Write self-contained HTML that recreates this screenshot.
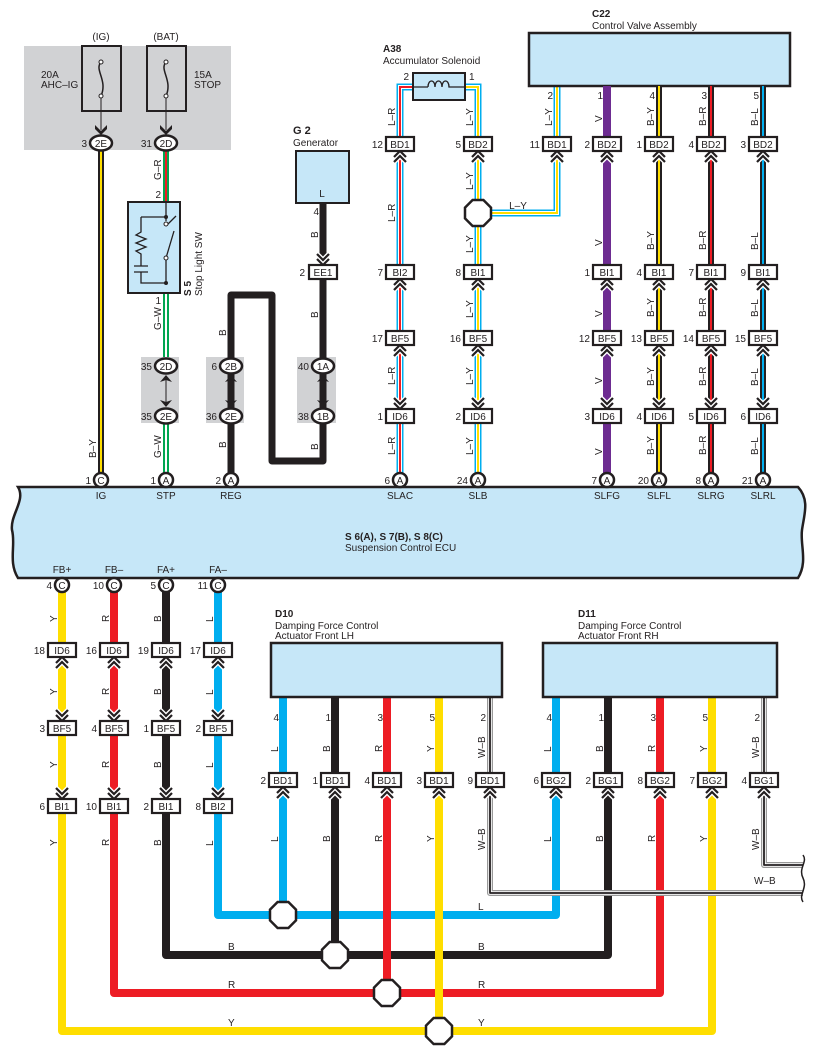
<!DOCTYPE html>
<html><head><meta charset="utf-8"><style>
html,body{margin:0;padding:0;background:#fff}
svg{display:block}
text{font-family:"Liberation Sans",sans-serif;font-size:10px;fill:#231f20}
.b{font-weight:bold}
.m{text-anchor:middle}
.e{text-anchor:end}
</style></head><body>
<svg width="816" height="1057" viewBox="0 0 816 1057" xmlns="http://www.w3.org/2000/svg">
<defs>
<g id="cu"><path d="M-6,5 L0,-1 L6,5 M-6,10 L0,4 L6,10" fill="none" stroke="#fff" stroke-width="5"/><path d="M-6,5 L0,-1 L6,5 M-6,10 L0,4 L6,10" fill="none" stroke="#231f20" stroke-width="2.2"/></g>
<g id="cd"><path d="M-6,-5 L0,1 L6,-5 M-6,-10 L0,-4 L6,-10" fill="none" stroke="#fff" stroke-width="5"/><path d="M-6,-5 L0,1 L6,-5 M-6,-10 L0,-4 L6,-10" fill="none" stroke="#231f20" stroke-width="2.2"/></g>
<polygon id="oct" points="-5.4,-13 5.4,-13 13,-5.4 13,5.4 5.4,13 -5.4,13 -13,5.4 -13,-5.4" fill="#fff" stroke="#231f20" stroke-width="2.5"/>
<rect id="cb" x="-14" y="-7" width="28" height="14" fill="#fff" stroke="#231f20" stroke-width="2.2"/>
</defs>

<!-- fuse area -->
<rect x="24" y="46" width="207" height="104" fill="#d1d2d4"/>
<rect x="82" y="46" width="39" height="65" fill="#d1d2d4" stroke="#231f20" stroke-width="2"/>
<rect x="147" y="46" width="39" height="65" fill="#d1d2d4" stroke="#231f20" stroke-width="2"/>
<path d="M101,62 C94,70 108,80 101,96 M166,62 C159,70 173,80 166,96" fill="none" stroke="#231f20" stroke-width="1.5"/>
<circle cx="101" cy="62" r="2" fill="#fff" stroke="#231f20"/><circle cx="101" cy="96" r="2" fill="#fff" stroke="#231f20"/>
<circle cx="166" cy="62" r="2" fill="#fff" stroke="#231f20"/><circle cx="166" cy="96" r="2" fill="#fff" stroke="#231f20"/>
<line x1="101" y1="98" x2="101" y2="130" stroke="#231f20"/><line x1="166" y1="98" x2="166" y2="130" stroke="#231f20"/>
<path d="M95,125 L101,131 L107,125 L107,129 L101,135 L95,129Z" fill="#231f20"/>
<path d="M160,125 L166,131 L172,125 L172,129 L166,135 L160,129Z" fill="#231f20"/>
<text x="101" y="40" class="m">(IG)</text><text x="166" y="40" class="m">(BAT)</text>
<text x="41" y="78">20A</text><text x="41" y="88">AHC–IG</text>
<text x="194" y="78">15A</text><text x="194" y="88">STOP</text>

<!-- IG wire -->
<line x1="101" y1="150" x2="101" y2="478" stroke="#231f20" stroke-width="6"/>
<line x1="101" y1="150" x2="101" y2="478" stroke="#ffde00" stroke-width="2"/>
<!-- STP wires -->
<line x1="166" y1="150" x2="166" y2="204" stroke="#00a651" stroke-width="6"/>
<line x1="166" y1="150" x2="166" y2="204" stroke="#ed1c24" stroke-width="2"/>
<line x1="166" y1="292" x2="166" y2="478" stroke="#00a651" stroke-width="6"/>
<line x1="166" y1="292" x2="166" y2="478" stroke="#fff" stroke-width="2"/>

<!-- S5 -->
<rect x="128" y="202" width="52" height="91" fill="#c6e7f8" stroke="#231f20" stroke-width="2"/>
<path d="M166,202 V221 M166,258 V283 M141,217 H166 M141,217 V232 L136,235 L146,239 L136,243 L146,247 L136,251 L141,254 V266 M134,266 H148 M134,272 H148 M141,272 V283 H166 M166,226 L176,216 M166,258 L174,231" fill="none" stroke="#231f20" stroke-width="1.3"/>
<circle cx="166" cy="217" r="2" fill="#231f20"/><circle cx="166" cy="283" r="2" fill="#231f20"/>
<circle cx="166" cy="224" r="2" fill="#fff" stroke="#231f20"/><circle cx="166" cy="258" r="2" fill="#fff" stroke="#231f20"/>
<text x="161" y="198" class="e">2</text><text x="161" y="304" class="e">1</text>
<text transform="translate(191,296) rotate(-90)" class="b">S 5</text>
<text transform="translate(202,296) rotate(-90)">Stop Light SW</text>

<!-- gray boxes -->
<rect x="141" y="357" width="38" height="66" fill="#d1d2d4"/>
<rect x="206" y="357" width="38" height="66" fill="#d1d2d4"/>
<rect x="297" y="357" width="39" height="66" fill="#d1d2d4"/>

<!-- REG / G2 black wire -->
<path d="M231,478 V295 H272 V461 H323 V204" fill="none" stroke="#231f20" stroke-width="7" stroke-linejoin="round"/>
<rect x="296" y="151" width="53" height="52" fill="#c6e7f8" stroke="#231f20" stroke-width="2"/>
<text x="322" y="197" class="m">L</text>
<text x="293" y="134" class="b" style="font-size:11px">G 2</text><text x="293" y="146">Generator</text>
<text x="319" y="215" class="e">4</text>

<!-- inline connectors with double arrows in gray boxes -->
<g stroke="#231f20" fill="#231f20">
<line x1="166" y1="376" x2="166" y2="406" stroke-width="1"/><line x1="231" y1="376" x2="231" y2="406" stroke-width="1"/><line x1="323" y1="376" x2="323" y2="406" stroke-width="1"/>
</g>
<path d="M160,382 L166,375 L172,382 L166,380Z M160,400 L166,407 L172,400 L166,402Z" fill="#231f20"/>
<path d="M225,382 L231,375 L237,382 L231,380Z M225,400 L231,407 L237,400 L231,402Z" fill="#231f20"/>
<path d="M317,382 L323,375 L329,382 L323,380Z M317,400 L323,407 L329,400 L323,402Z" fill="#231f20"/>

<!-- L-R & L-Y wires -->
<path d="M414,87 H400 V478" fill="none" stroke="#00aeef" stroke-width="7"/>
<path d="M414,87 H400 V478" fill="none" stroke="#fff" stroke-width="4"/>
<path d="M414,87 H400 V478" fill="none" stroke="#ed1c24" stroke-width="2"/>
<path d="M465,87 H478 V478 M478,213 H557 V86" fill="none" stroke="#00aeef" stroke-width="7"/>
<path d="M465,87 H478 V478 M478,213 H557 V86" fill="none" stroke="#fff" stroke-width="4"/>
<path d="M465,87 H478 V478 M478,213 H557 V86" fill="none" stroke="#ffde00" stroke-width="2"/>
<rect x="413" y="73" width="52" height="27" fill="#c6e7f8" stroke="#231f20" stroke-width="2"/>
<path d="M414,87 H428 M452,87 H465 M428,87 C428,79 435,79 435,87 C435,79 442,79 442,87 C442,79 449,79 449,87 H452" fill="none" stroke="#231f20" stroke-width="1.3"/>
<text x="383" y="52" class="b">A38</text><text x="383" y="64">Accumulator Solenoid</text>
<text x="409" y="80" class="e">2</text><text x="469" y="80">1</text>

<!-- C22 -->
<rect x="529" y="33" width="261" height="53" fill="#c6e7f8" stroke="#231f20" stroke-width="2.5"/>
<text x="592" y="17" class="b">C22</text><text x="592" y="29">Control Valve Assembly</text>
<line x1="607" y1="86" x2="607" y2="478" stroke="#6d2c91" stroke-width="8"/>
<line x1="659" y1="86" x2="659" y2="478" stroke="#231f20" stroke-width="6"/><line x1="659" y1="86" x2="659" y2="478" stroke="#ffde00" stroke-width="2"/>
<line x1="711" y1="86" x2="711" y2="478" stroke="#231f20" stroke-width="6"/><line x1="711" y1="86" x2="711" y2="478" stroke="#ed1c24" stroke-width="2"/>
<line x1="763" y1="86" x2="763" y2="478" stroke="#231f20" stroke-width="6"/><line x1="763" y1="86" x2="763" y2="478" stroke="#00aeef" stroke-width="2"/>
<text x="553" y="99" class="e">2</text><text x="603" y="99" class="e">1</text><text x="655" y="99" class="e">4</text><text x="707" y="99" class="e">3</text><text x="759" y="99" class="e">5</text>
<use href="#oct" x="478" y="213"/>
<text x="518" y="209" class="m">L–Y</text>

<!-- ECU -->
<path d="M18,487 H798 C810,500 804,515 802,530 C800,545 808,562 798,578 H18 C8,562 16,545 12,530 C10,515 26,500 18,487Z" fill="#c6e7f8" stroke="#231f20" stroke-width="2.5"/>
<text x="345" y="540" class="b">S 6(A), S 7(B), S 8(C)</text><text x="345" y="551">Suspension Control ECU</text>
<g class="m">
<text x="101" y="499" class="m">IG</text><text x="166" y="499" class="m">STP</text><text x="231" y="499" class="m">REG</text>
<text x="400" y="499" class="m">SLAC</text><text x="478" y="499" class="m">SLB</text><text x="607" y="499" class="m">SLFG</text>
<text x="659" y="499" class="m">SLFL</text><text x="711" y="499" class="m">SLRG</text><text x="763" y="499" class="m">SLRL</text>
<text x="62" y="573" class="m">FB+</text><text x="114" y="573" class="m">FB–</text><text x="166" y="573" class="m">FA+</text><text x="218" y="573" class="m">FA–</text>
</g>

<!-- bottom wires: horizontals first -->
<g fill="none" stroke-linejoin="round">
<path d="M62,592 V1031 H712 V697" stroke="#ffde00" stroke-width="8"/>
<path d="M114,592 V993 H660 V697" stroke="#ed1c24" stroke-width="8"/>
<path d="M166,592 V955 H608 V697" stroke="#231f20" stroke-width="8"/>
<path d="M218,592 V915 H556 V697" stroke="#00aeef" stroke-width="8"/>
<path d="M490,697 V893 H803 M764,697 V865 H803" stroke="#999" stroke-width="6"/>
<path d="M490,697 V893 H803 M764,697 V865 H803" stroke="#fff" stroke-width="3.5"/>
<path d="M490,697 V893 H803 M764,697 V865 H803" stroke="#231f20" stroke-width="1.8"/>
<line x1="283" y1="697" x2="283" y2="915" stroke="#00aeef" stroke-width="8"/>
<line x1="335" y1="697" x2="335" y2="955" stroke="#231f20" stroke-width="8"/>
<line x1="387" y1="697" x2="387" y2="993" stroke="#ed1c24" stroke-width="8"/>
<line x1="439" y1="697" x2="439" y2="1031" stroke="#ffde00" stroke-width="8"/>
<path d="M803,855 C808,862 798,868 803,878 C808,888 798,895 803,902" stroke="#231f20" stroke-width="1.5"/>
</g>
<use href="#oct" x="283" y="915"/><use href="#oct" x="335" y="955"/><use href="#oct" x="387" y="993"/><use href="#oct" x="439" y="1031"/>
<text x="478" y="910">L</text><text x="478" y="950">B</text><text x="478" y="988">R</text><text x="478" y="1026">Y</text>
<text x="228" y="950">B</text><text x="228" y="988">R</text><text x="228" y="1026">Y</text>
<text x="754" y="884">W–B</text>

<!-- D10 / D11 -->
<rect x="271" y="643" width="231" height="54" fill="#c6e7f8" stroke="#231f20" stroke-width="2.5"/>
<rect x="543" y="643" width="234" height="54" fill="#c6e7f8" stroke="#231f20" stroke-width="2.5"/>
<text x="275" y="617" class="b">D10</text><text x="275" y="629">Damping Force Control</text><text x="275" y="639">Actuator Front LH</text>
<text x="578" y="617" class="b">D11</text><text x="578" y="629">Damping Force Control</text><text x="578" y="639">Actuator Front RH</text>
<g>
<text x="279" y="721" class="e">4</text><text x="331" y="721" class="e">1</text><text x="383" y="721" class="e">3</text><text x="435" y="721" class="e">5</text><text x="486" y="721" class="e">2</text>
<text x="552" y="721" class="e">4</text><text x="604" y="721" class="e">1</text><text x="656" y="721" class="e">3</text><text x="708" y="721" class="e">5</text><text x="760" y="721" class="e">2</text>
</g>

<!-- Round connectors -->
<g fill="#fff" stroke="#231f20" stroke-width="2.5">
<ellipse cx="101" cy="143" rx="11" ry="7.5"/><ellipse cx="166" cy="143" rx="11" ry="7.5"/>
<ellipse cx="166" cy="366" rx="11" ry="7.5"/><ellipse cx="166" cy="416" rx="11" ry="7.5"/>
<ellipse cx="231" cy="366" rx="11" ry="7.5"/><ellipse cx="231" cy="416" rx="11" ry="7.5"/>
<ellipse cx="323" cy="366" rx="11" ry="7.5"/><ellipse cx="323" cy="416" rx="11" ry="7.5"/>
<circle cx="101" cy="480" r="7"/><circle cx="166" cy="480" r="7"/><circle cx="231" cy="480" r="7"/>
<circle cx="400" cy="480" r="7"/><circle cx="478" cy="480" r="7"/><circle cx="607" cy="480" r="7"/>
<circle cx="659" cy="480" r="7"/><circle cx="711" cy="480" r="7"/><circle cx="763" cy="480" r="7"/>
<circle cx="62" cy="585" r="7"/><circle cx="114" cy="585" r="7"/><circle cx="166" cy="585" r="7"/><circle cx="218" cy="585" r="7"/>
</g>
<g>
<text x="101" y="147" class="m">2E</text><text x="166" y="147" class="m">2D</text>
<text x="166" y="370" class="m">2D</text><text x="166" y="420" class="m">2E</text>
<text x="231" y="370" class="m">2B</text><text x="231" y="420" class="m">2E</text>
<text x="323" y="370" class="m">1A</text><text x="323" y="420" class="m">1B</text>
<text x="87" y="147" class="e">3</text><text x="152" y="147" class="e">31</text>
<text x="152" y="370" class="e">35</text><text x="152" y="420" class="e">35</text>
<text x="217" y="370" class="e">6</text><text x="217" y="420" class="e">36</text>
<text x="309" y="370" class="e">40</text><text x="309" y="420" class="e">38</text>
<text x="101" y="484" class="m">C</text><text x="166" y="484" class="m">A</text><text x="231" y="484" class="m">A</text>
<text x="400" y="484" class="m">A</text><text x="478" y="484" class="m">A</text><text x="607" y="484" class="m">A</text>
<text x="659" y="484" class="m">A</text><text x="711" y="484" class="m">A</text><text x="763" y="484" class="m">A</text>
<text x="91" y="484" class="e">1</text><text x="156" y="484" class="e">1</text><text x="221" y="484" class="e">2</text>
<text x="390" y="484" class="e">6</text><text x="468" y="484" class="e">24</text><text x="597" y="484" class="e">7</text>
<text x="649" y="484" class="e">20</text><text x="701" y="484" class="e">8</text><text x="753" y="484" class="e">21</text>
<text x="62" y="589" class="m">C</text><text x="114" y="589" class="m">C</text><text x="166" y="589" class="m">C</text><text x="218" y="589" class="m">C</text>
<text x="52" y="589" class="e">4</text><text x="104" y="589" class="e">10</text><text x="156" y="589" class="e">5</text><text x="208" y="589" class="e">11</text>
</g>

<!-- EE1 -->
<use href="#cd" x="323" y="264"/>
<use href="#cb" x="323" y="272"/><text x="323" y="276" class="m">EE1</text><text x="305" y="276" class="e">2</text>

<!-- upper box connectors -->
<!-- row y144 BD -->
<g>
<use href="#cu" x="400" y="152"/><use href="#cu" x="478" y="152"/><use href="#cu" x="557" y="152"/><use href="#cu" x="607" y="152"/><use href="#cu" x="659" y="152"/><use href="#cu" x="711" y="152"/><use href="#cu" x="763" y="152"/>
<use href="#cb" x="400" y="144"/><use href="#cb" x="478" y="144"/><use href="#cb" x="557" y="144"/><use href="#cb" x="607" y="144"/><use href="#cb" x="659" y="144"/><use href="#cb" x="711" y="144"/><use href="#cb" x="763" y="144"/>
<text x="400" y="148" class="m">BD1</text><text x="478" y="148" class="m">BD2</text><text x="557" y="148" class="m">BD1</text><text x="607" y="148" class="m">BD2</text><text x="659" y="148" class="m">BD2</text><text x="711" y="148" class="m">BD2</text><text x="763" y="148" class="m">BD2</text>
<text x="383" y="148" class="e">12</text><text x="461" y="148" class="e">5</text><text x="540" y="148" class="e">11</text><text x="590" y="148" class="e">2</text><text x="642" y="148" class="e">1</text><text x="694" y="148" class="e">4</text><text x="746" y="148" class="e">3</text>
</g>
<!-- row y272 BI -->
<g>
<use href="#cu" x="400" y="280"/><use href="#cu" x="478" y="280"/><use href="#cu" x="607" y="280"/><use href="#cu" x="659" y="280"/><use href="#cu" x="711" y="280"/><use href="#cu" x="763" y="280"/>
<use href="#cb" x="400" y="272"/><use href="#cb" x="478" y="272"/><use href="#cb" x="607" y="272"/><use href="#cb" x="659" y="272"/><use href="#cb" x="711" y="272"/><use href="#cb" x="763" y="272"/>
<text x="400" y="276" class="m">BI2</text><text x="478" y="276" class="m">BI1</text><text x="607" y="276" class="m">BI1</text><text x="659" y="276" class="m">BI1</text><text x="711" y="276" class="m">BI1</text><text x="763" y="276" class="m">BI1</text>
<text x="383" y="276" class="e">7</text><text x="461" y="276" class="e">8</text><text x="590" y="276" class="e">1</text><text x="642" y="276" class="e">4</text><text x="694" y="276" class="e">7</text><text x="746" y="276" class="e">9</text>
</g>
<!-- row y338 BF5 -->
<g>
<use href="#cu" x="400" y="346"/><use href="#cu" x="478" y="346"/><use href="#cu" x="607" y="346"/><use href="#cu" x="659" y="346"/><use href="#cu" x="711" y="346"/><use href="#cu" x="763" y="346"/>
<use href="#cb" x="400" y="338"/><use href="#cb" x="478" y="338"/><use href="#cb" x="607" y="338"/><use href="#cb" x="659" y="338"/><use href="#cb" x="711" y="338"/><use href="#cb" x="763" y="338"/>
<text x="400" y="342" class="m">BF5</text><text x="478" y="342" class="m">BF5</text><text x="607" y="342" class="m">BF5</text><text x="659" y="342" class="m">BF5</text><text x="711" y="342" class="m">BF5</text><text x="763" y="342" class="m">BF5</text>
<text x="383" y="342" class="e">17</text><text x="461" y="342" class="e">16</text><text x="590" y="342" class="e">12</text><text x="642" y="342" class="e">13</text><text x="694" y="342" class="e">14</text><text x="746" y="342" class="e">15</text>
</g>
<!-- row y416 ID6 -->
<g>
<use href="#cd" x="400" y="408"/><use href="#cd" x="478" y="408"/><use href="#cd" x="607" y="408"/><use href="#cd" x="659" y="408"/><use href="#cd" x="711" y="408"/><use href="#cd" x="763" y="408"/>
<use href="#cb" x="400" y="416"/><use href="#cb" x="478" y="416"/><use href="#cb" x="607" y="416"/><use href="#cb" x="659" y="416"/><use href="#cb" x="711" y="416"/><use href="#cb" x="763" y="416"/>
<text x="400" y="420" class="m">ID6</text><text x="478" y="420" class="m">ID6</text><text x="607" y="420" class="m">ID6</text><text x="659" y="420" class="m">ID6</text><text x="711" y="420" class="m">ID6</text><text x="763" y="420" class="m">ID6</text>
<text x="383" y="420" class="e">1</text><text x="461" y="420" class="e">2</text><text x="590" y="420" class="e">3</text><text x="642" y="420" class="e">4</text><text x="694" y="420" class="e">5</text><text x="746" y="420" class="e">6</text>
</g>

<!-- lower left columns -->
<g>
<use href="#cu" x="62" y="658"/><use href="#cu" x="114" y="658"/><use href="#cu" x="166" y="658"/><use href="#cu" x="218" y="658"/>
<use href="#cb" x="62" y="650"/><use href="#cb" x="114" y="650"/><use href="#cb" x="166" y="650"/><use href="#cb" x="218" y="650"/>
<text x="62" y="654" class="m">ID6</text><text x="114" y="654" class="m">ID6</text><text x="166" y="654" class="m">ID6</text><text x="218" y="654" class="m">ID6</text>
<text x="45" y="654" class="e">18</text><text x="97" y="654" class="e">16</text><text x="149" y="654" class="e">19</text><text x="201" y="654" class="e">17</text>
<use href="#cd" x="62" y="720"/><use href="#cd" x="114" y="720"/><use href="#cd" x="166" y="720"/><use href="#cd" x="218" y="720"/>
<use href="#cb" x="62" y="728"/><use href="#cb" x="114" y="728"/><use href="#cb" x="166" y="728"/><use href="#cb" x="218" y="728"/>
<text x="62" y="732" class="m">BF5</text><text x="114" y="732" class="m">BF5</text><text x="166" y="732" class="m">BF5</text><text x="218" y="732" class="m">BF5</text>
<text x="45" y="732" class="e">3</text><text x="97" y="732" class="e">4</text><text x="149" y="732" class="e">1</text><text x="201" y="732" class="e">2</text>
<use href="#cd" x="62" y="798"/><use href="#cd" x="114" y="798"/><use href="#cd" x="166" y="798"/><use href="#cd" x="218" y="798"/>
<use href="#cb" x="62" y="806"/><use href="#cb" x="114" y="806"/><use href="#cb" x="166" y="806"/><use href="#cb" x="218" y="806"/>
<text x="62" y="810" class="m">BI1</text><text x="114" y="810" class="m">BI1</text><text x="166" y="810" class="m">BI1</text><text x="218" y="810" class="m">BI2</text>
<text x="45" y="810" class="e">6</text><text x="97" y="810" class="e">10</text><text x="149" y="810" class="e">2</text><text x="201" y="810" class="e">8</text>
</g>
<!-- D connectors row y780 -->
<g>
<use href="#cu" x="283" y="788"/><use href="#cu" x="335" y="788"/><use href="#cu" x="387" y="788"/><use href="#cu" x="439" y="788"/><use href="#cu" x="490" y="788"/>
<use href="#cu" x="556" y="788"/><use href="#cu" x="608" y="788"/><use href="#cu" x="660" y="788"/><use href="#cu" x="712" y="788"/><use href="#cu" x="764" y="788"/>
<use href="#cb" x="283" y="780"/><use href="#cb" x="335" y="780"/><use href="#cb" x="387" y="780"/><use href="#cb" x="439" y="780"/><use href="#cb" x="490" y="780"/>
<use href="#cb" x="556" y="780"/><use href="#cb" x="608" y="780"/><use href="#cb" x="660" y="780"/><use href="#cb" x="712" y="780"/><use href="#cb" x="764" y="780"/>
<text x="283" y="784" class="m">BD1</text><text x="335" y="784" class="m">BD1</text><text x="387" y="784" class="m">BD1</text><text x="439" y="784" class="m">BD1</text><text x="490" y="784" class="m">BD1</text>
<text x="556" y="784" class="m">BG2</text><text x="608" y="784" class="m">BG1</text><text x="660" y="784" class="m">BG2</text><text x="712" y="784" class="m">BG2</text><text x="764" y="784" class="m">BG1</text>
<text x="266" y="784" class="e">2</text><text x="318" y="784" class="e">1</text><text x="370" y="784" class="e">4</text><text x="422" y="784" class="e">3</text><text x="473" y="784" class="e">9</text>
<text x="539" y="784" class="e">6</text><text x="591" y="784" class="e">2</text><text x="643" y="784" class="e">8</text><text x="695" y="784" class="e">7</text><text x="747" y="784" class="e">4</text>
</g>

<!-- vertical wire color labels -->
<g style="font-size:9px">
<text transform="translate(96,458) rotate(-90)">B–Y</text>
<text transform="translate(161,180) rotate(-90)">G–R</text>
<text transform="translate(161,330) rotate(-90)">G–W</text>
<text transform="translate(161,458) rotate(-90)">G–W</text>
<text transform="translate(226,336) rotate(-90)">B</text>
<text transform="translate(226,448) rotate(-90)">B</text>
<text transform="translate(318,238) rotate(-90)">B</text>
<text transform="translate(318,318) rotate(-90)">B</text>
<text transform="translate(318,450) rotate(-90)">B</text>
<text transform="translate(395,126) rotate(-90)">L–R</text>
<text transform="translate(395,222) rotate(-90)">L–R</text>
<text transform="translate(395,385) rotate(-90)">L–R</text>
<text transform="translate(395,455) rotate(-90)">L–R</text>
<text transform="translate(473,126) rotate(-90)">L–Y</text>
<text transform="translate(473,190) rotate(-90)">L–Y</text>
<text transform="translate(473,253) rotate(-90)">L–Y</text>
<text transform="translate(473,318) rotate(-90)">L–Y</text>
<text transform="translate(473,385) rotate(-90)">L–Y</text>
<text transform="translate(473,455) rotate(-90)">L–Y</text>
<text transform="translate(552,126) rotate(-90)">L–Y</text>
<g id="colV">
<text transform="translate(602,122) rotate(-90)">V</text>
<text transform="translate(602,246) rotate(-90)">V</text>
<text transform="translate(602,317) rotate(-90)">V</text>
<text transform="translate(602,384) rotate(-90)">V</text>
<text transform="translate(602,455) rotate(-90)">V</text>
</g>
<text transform="translate(654,126) rotate(-90)">B–Y</text><text transform="translate(654,250) rotate(-90)">B–Y</text><text transform="translate(654,317) rotate(-90)">B–Y</text><text transform="translate(654,386) rotate(-90)">B–Y</text><text transform="translate(654,455) rotate(-90)">B–Y</text>
<text transform="translate(706,126) rotate(-90)">B–R</text><text transform="translate(706,250) rotate(-90)">B–R</text><text transform="translate(706,317) rotate(-90)">B–R</text><text transform="translate(706,386) rotate(-90)">B–R</text><text transform="translate(706,455) rotate(-90)">B–R</text>
<text transform="translate(758,126) rotate(-90)">B–L</text><text transform="translate(758,250) rotate(-90)">B–L</text><text transform="translate(758,317) rotate(-90)">B–L</text><text transform="translate(758,386) rotate(-90)">B–L</text><text transform="translate(758,455) rotate(-90)">B–L</text>
<text transform="translate(57,622) rotate(-90)">Y</text><text transform="translate(57,695) rotate(-90)">Y</text><text transform="translate(57,768) rotate(-90)">Y</text><text transform="translate(57,846) rotate(-90)">Y</text>
<text transform="translate(109,622) rotate(-90)">R</text><text transform="translate(109,695) rotate(-90)">R</text><text transform="translate(109,768) rotate(-90)">R</text><text transform="translate(109,846) rotate(-90)">R</text>
<text transform="translate(161,622) rotate(-90)">B</text><text transform="translate(161,695) rotate(-90)">B</text><text transform="translate(161,768) rotate(-90)">B</text><text transform="translate(161,846) rotate(-90)">B</text>
<text transform="translate(213,622) rotate(-90)">L</text><text transform="translate(213,695) rotate(-90)">L</text><text transform="translate(213,768) rotate(-90)">L</text><text transform="translate(213,846) rotate(-90)">L</text>
<text transform="translate(278,752) rotate(-90)">L</text><text transform="translate(278,842) rotate(-90)">L</text>
<text transform="translate(330,752) rotate(-90)">B</text><text transform="translate(330,842) rotate(-90)">B</text>
<text transform="translate(382,752) rotate(-90)">R</text><text transform="translate(382,842) rotate(-90)">R</text>
<text transform="translate(434,752) rotate(-90)">Y</text><text transform="translate(434,842) rotate(-90)">Y</text>
<text transform="translate(485,758) rotate(-90)">W–B</text><text transform="translate(485,850) rotate(-90)">W–B</text>
<text transform="translate(551,752) rotate(-90)">L</text><text transform="translate(551,842) rotate(-90)">L</text>
<text transform="translate(603,752) rotate(-90)">B</text><text transform="translate(603,842) rotate(-90)">B</text>
<text transform="translate(655,752) rotate(-90)">R</text><text transform="translate(655,842) rotate(-90)">R</text>
<text transform="translate(707,752) rotate(-90)">Y</text><text transform="translate(707,842) rotate(-90)">Y</text>
<text transform="translate(759,758) rotate(-90)">W–B</text><text transform="translate(759,850) rotate(-90)">W–B</text>
</g>
</svg>
</body></html>
